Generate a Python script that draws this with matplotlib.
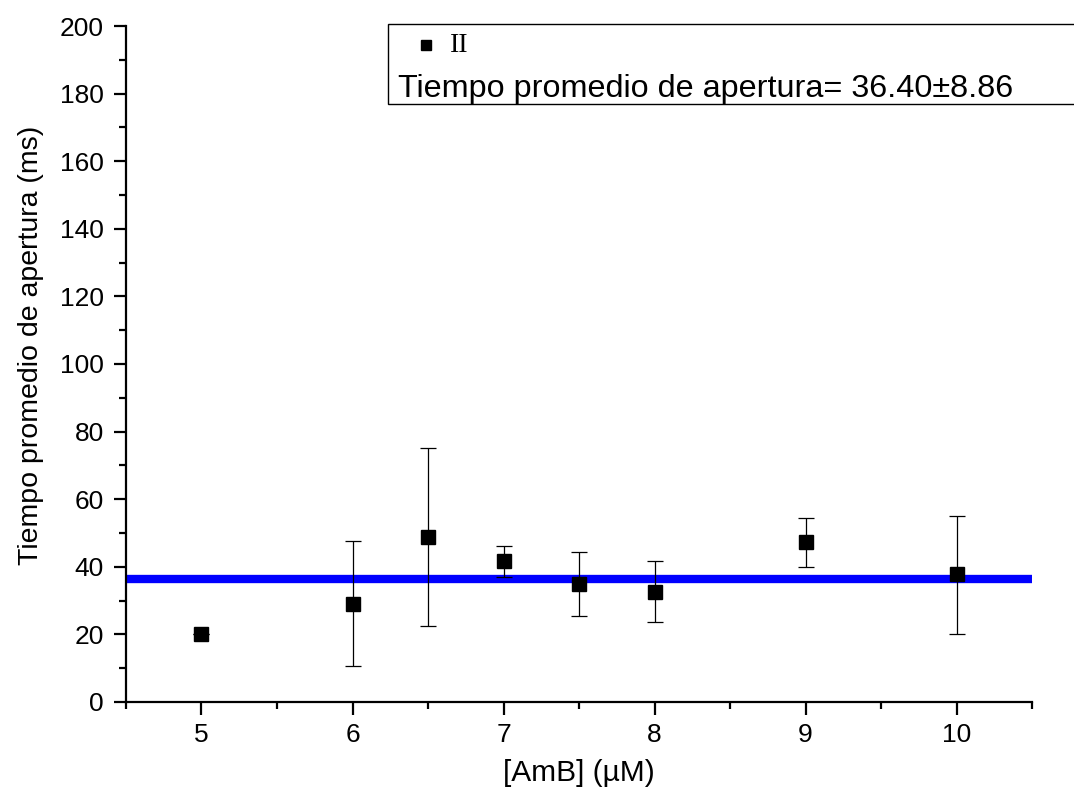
import matplotlib
matplotlib.use('Agg')
import matplotlib.pyplot as plt
from matplotlib.patches import Rectangle
from matplotlib.lines import Line2D

# Data
amb_conc = [5, 6, 6.5, 7, 7.5, 8, 9, 10]
open_time = [20.2, 29.0, 48.7, 41.6, 34.8, 32.6, 47.2, 37.8]
err_upper = [0.0, 18.5, 26.3, 4.5, 9.6, 9.0, 7.2, 17.1]
err_lower = [0.0, 18.5, 26.3, 4.5, 9.3, 8.8, 7.3, 17.6]
mean_time = 36.40
mean_sd = 8.86
x_range = [4.5, 10.5]

plt.rcParams['font.family'] = ['Liberation Sans', 'DejaVu Sans']

fig = plt.figure(figsize=(10.74, 8.05), dpi=100)
ax = fig.add_axes([0.1173, 0.128, 0.8437, 0.8397])

# Mean line across the whole range
ax.plot(x_range, [mean_time, mean_time], color='#0000ff', linewidth=6, solid_capstyle='butt', zorder=2)

# Points with error bars
ax.errorbar(amb_conc, open_time, yerr=[err_lower, err_upper], fmt='s', color='black',
            markersize=10.5, ecolor='black', elinewidth=0.9, capsize=6, capthick=0.9, zorder=3)

ax.set_xlim(*x_range)
ax.set_ylim(0, 200)
ax.set_xticks([5, 6, 7, 8, 9, 10])
ax.set_xticks([4.5, 5.5, 6.5, 7.5, 8.5, 9.5, 10.5], minor=True)
ax.set_yticks(range(0, 201, 20))
ax.set_yticks(range(10, 200, 20), minor=True)

for side in ['top', 'right']:
    ax.spines[side].set_visible(False)
for side in ['left', 'bottom']:
    ax.spines[side].set_linewidth(1.6)

ax.tick_params(which='major', direction='out', length=9, width=1.6, labelsize=19)
ax.tick_params(axis='y', which='major', pad=7)
ax.tick_params(axis='x', which='major', pad=6)
ax.tick_params(which='minor', direction='out', length=5, width=1.6)

ax.set_xlabel('[AmB] (µM)', fontsize=21.5, labelpad=9)
ax.set_ylabel('Tiempo promedio de apertura (ms)', fontsize=20.5)
ax.yaxis.set_label_coords(-0.09, 0.527)

# Legend-like box, running off the right edge as in the original
fig.patches.append(Rectangle((0.361, 0.871), 0.7, 0.099, transform=fig.transFigure,
                             facecolor='white', edgecolor='black', linewidth=1.0,
                             clip_on=False, zorder=5))
fig.lines.append(Line2D([0.397], [0.944], transform=fig.transFigure, marker='s',
                        color='black', markersize=7.5, linestyle='none', zorder=6))
fig.text(0.419, 0.944, 'II', fontsize=20, family=['Liberation Serif', 'DejaVu Serif'],
         va='center', ha='left', zorder=6)
fig.text(0.371, 0.890, f'Tiempo promedio de apertura= {mean_time:.2f}±{mean_sd:.2f}',
         fontsize=23.3, va='center', ha='left', zorder=6)

fig.savefig('out.png', dpi=100)
